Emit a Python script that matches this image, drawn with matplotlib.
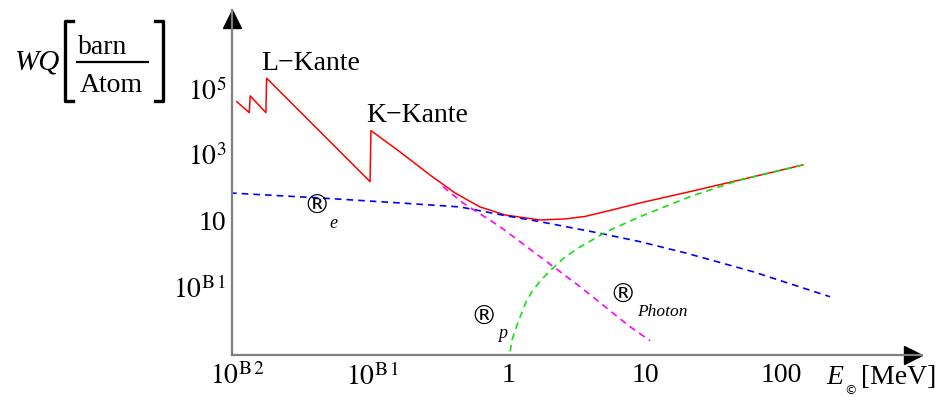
import matplotlib
matplotlib.use("Agg")
import matplotlib.pyplot as plt
from matplotlib.lines import Line2D
from matplotlib.transforms import ScaledTranslation

plt.rcParams["font.family"] = ["Liberation Serif", "DejaVu Serif"]
plt.rcParams["mathtext.fontset"] = "stix"

# energies in MeV, cross sections in barn/atom
total_e = [0.00995, 0.0123, 0.0125, 0.0163, 0.0165, 0.0951, 0.0966, 0.158, 0.262,
           0.401, 0.612, 0.935, 1.69, 2.58, 3.62, 5.53, 9.19, 21.4, 50.0, 145]
total_wq = [41200, 19100, 61400, 19100, 211000, 155, 5450, 1233, 248,
            70.5, 26.6, 15.2, 10.7, 11.5, 13.7, 20.8, 35.1, 77.3, 175, 498]

compton_e = [0.00888, 0.0407, 0.158, 0.436, 0.966, 1.69, 4.67, 9.19, 20.3, 62.2, 229]
compton_wq = [70.5, 49.8, 35.1, 26.6, 14.2, 9.53, 4.24, 2.36, 1.05, 0.291, 0.0508]

photo_e = [0.327, 0.459, 0.859, 1.69, 3.33, 7.76, 10.9]
photo_wq = [109, 35.1, 6.71, 0.828, 0.102, 0.00627, 0.00236]

pair_e = [0.989, 1.052, 1.125, 1.205, 1.334, 1.50, 1.778, 2.11, 2.58, 3.33,
          5.22, 9.19, 21.4, 50.0, 145]
pair_wq = [0.0005, 0.00248, 0.00573, 0.0123, 0.0351, 0.0811, 0.1875, 0.377, 0.811, 1.63,
           4.74, 13.5, 54.5, 175, 498]

x_ticks = [0.01, 0.1, 1, 10, 100]
x_labels = [r"$10^{\mathrm{B\,2}}$", r"$10^{\mathrm{B\,1}}$", "1", "10", "100"]
y_ticks = [1e5, 1e3, 10, 0.1]
y_labels = [r"$10^{5}$", r"$10^{3}$", "10", r"$10^{\mathrm{B\,1}}$"]

W, H = 943, 397


def at(x, y):
    return x / W, 1 - y / H


fig = plt.figure(figsize=(W / 100, H / 100), dpi=100)
x0, y0 = at(232, 355)
x1, y1 = at(922, 10)
ax = fig.add_axes([x0, y0, x1 - x0, y1 - y0])
ax.set_xscale("log")
ax.set_yscale("log")
ax.set_xlim(10 ** -2.037, 10 ** 3.037)
ax.set_ylim(10 ** -3.06, 10 ** 7.39)

dash = (0, (4, 3))
ax.plot(total_e, total_wq, color="#ff0000", lw=1.1)
ax.plot(compton_e, compton_wq, color="#0000ff", lw=1.2, linestyle=dash)
ax.plot(photo_e, photo_wq, color="#ff00ff", lw=1.2, linestyle=dash)
ax.plot(pair_e, pair_wq, color="#11e011", lw=1.2, linestyle=dash)

for side in ("top", "right"):
    ax.spines[side].set_visible(False)
for side in ("left", "bottom"):
    ax.spines[side].set_color("#7f7f7f")
    ax.spines[side].set_linewidth(1.6)

ax.set_xticks(x_ticks, x_labels)
ax.set_yticks(y_ticks, y_labels)
ax.minorticks_off()
ax.tick_params(length=0, labelsize=20)
ax.tick_params(axis="x", pad=6)
ax.tick_params(axis="y", pad=4)

# arrow heads
ms = 13.5
ax.plot([0], [1], marker="^", color="black", ms=ms, clip_on=False,
        transform=ax.transAxes + ScaledTranslation(0, -ms / 2 / 72, fig.dpi_scale_trans))
ax.plot([1], [0], marker=">", color="black", ms=ms, clip_on=False,
        transform=ax.transAxes + ScaledTranslation(-ms / 2 / 72, 0, fig.dpi_scale_trans))

# y axis label
fig.text(*at(37, 62), "WQ", fontsize=21, style="italic", ha="center", va="center")
fig.text(*at(103, 47), "barn", fontsize=20, ha="center", va="center")
fig.text(*at(111, 85), "Atom", fontsize=20, ha="center", va="center")
for xs, ys, lw in [((77, 148), (62, 62), 1.6),
                   ((73, 65, 65, 73), (21, 21, 101, 101), 2.4),
                   ((155, 163, 163, 155), (21, 21, 101, 101), 2.4)]:
    fig.add_artist(Line2D([x / W for x in xs], [1 - y / H for y in ys],
                          color="black", lw=lw))

fig.text(*at(311, 63), "L\u2212Kante", fontsize=20, ha="center", va="center")
fig.text(*at(417, 116), "K\u2212Kante", fontsize=20, ha="center", va="center")

sym = ["DejaVu Sans"]
fig.text(*at(317, 207), "\u00ae", fontsize=19, family=sym, ha="center", va="center")
fig.text(*at(333, 223), "e", fontsize=13, style="italic", ha="center", va="center")
fig.text(*at(484, 318), "\u00ae", fontsize=19, family=sym, ha="center", va="center")
fig.text(*at(503, 333), "p", fontsize=13, style="italic", ha="center", va="center")
fig.text(*at(623, 296), "\u00ae", fontsize=19, family=sym, ha="center", va="center")
fig.text(*at(662, 312), "Photon", fontsize=12.5, style="italic", ha="center", va="center")

fig.text(*at(835, 378), "E", fontsize=20, style="italic", ha="center", va="center")
fig.text(*at(851, 391), "\u00a9", fontsize=9, family=sym, ha="center", va="center")
fig.text(*at(899, 377), "[MeV]", fontsize=20, ha="center", va="center")

fig.savefig("out.png", dpi=100)
